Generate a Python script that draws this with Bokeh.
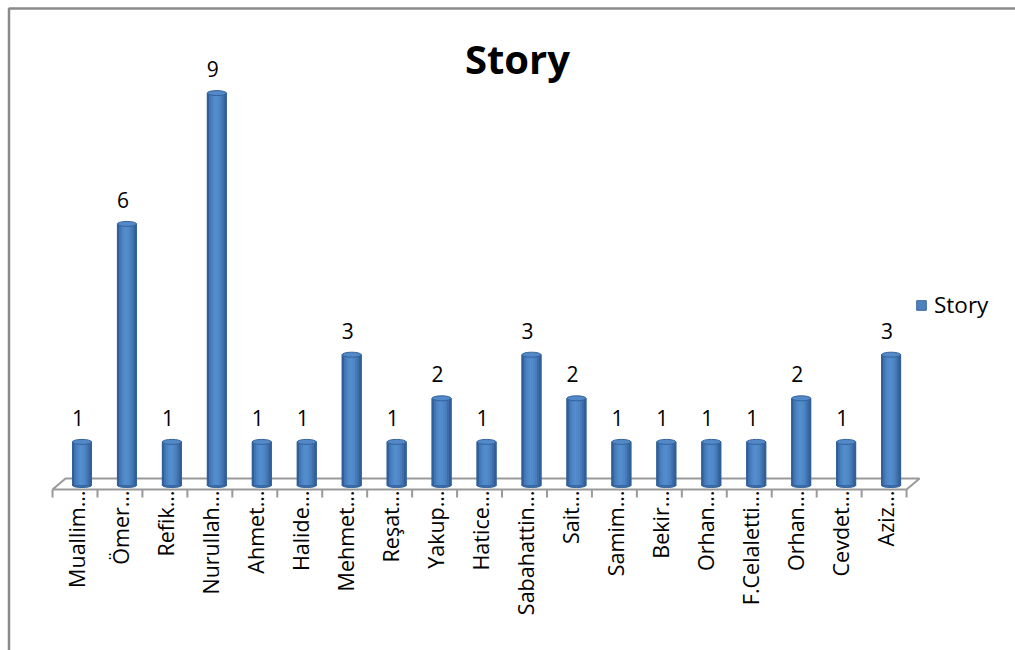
import numpy as np
from bokeh.plotting import figure
from bokeh.models import Range1d, Legend, LegendItem, Label
from bokeh.core.properties import value
from bokeh.embed import file_html
from bokeh.resources import INLINE

# ---- data -------------------------------------------------------------
categories = ["Muallim…", "Ömer…", "Refik…", "Nurullah…", "Ahmet…", "Halide…",
              "Mehmet…", "Reşat…", "Yakup…", "Hatice…", "Sabahattin…", "Sait…",
              "Samim…", "Bekir…", "Orhan…", "F.Celaletti…", "Orhan…", "Cevdet…",
              "Aziz…"]
story = [1, 6, 1, 9, 1, 1, 3, 1, 2, 1, 3, 2, 1, 1, 1, 1, 2, 1, 3]
series_name = "Story"
chart_title = "Story"

# ---- layout -----------------------------------------------------------
W, H = 1015, 650
CAT_PX = 44.95    # pixels per category slot
UNIT_PX = 43.6    # pixels per value unit
X0_PX = 81.5      # screen x of the first column centre
Y0_PX = 485.0     # screen y of the value baseline
FONT = "Open Sans"

dx = 1.0 / CAT_PX   # one pixel in x data units
dy = 1.0 / UNIT_PX  # one pixel in y data units

p = figure(width=W, height=H,
           x_range=Range1d(-X0_PX / CAT_PX, (W - X0_PX) / CAT_PX),
           y_range=Range1d(-(H - Y0_PX) / UNIT_PX, Y0_PX / UNIT_PX),
           output_backend="svg", toolbar_location=None,
           x_axis_location=None, y_axis_location=None,
           min_border=0, outline_line_color=None,
           background_fill_color="white", border_fill_color="white")
p.grid.visible = False
# pixel-space ranges for the chart-area frame
p.extra_x_ranges = {"px": Range1d(0, W)}
p.extra_y_ranges = {"px": Range1d(H, 0)}

n = len(categories)
idx = np.arange(n)

# chart-area border (top and left edges)
p.line([8.5, 8.5, W], [H, 8, 8], x_range_name="px", y_range_name="px",
       line_color="#8a8a8a", line_width=2.5)

# ---- 3-D floor --------------------------------------------------------
FRONT_DX, FRONT_DY = -7, 4     # front edge offset (px right, px down)
BACK_DX, BACK_DY = 6, -7       # back edge offset
left, right = -0.5, n - 0.5
fx = [left + FRONT_DX * dx, right + FRONT_DX * dx, right + BACK_DX * dx,
      left + BACK_DX * dx, left + FRONT_DX * dx]
fy = [-FRONT_DY * dy, -FRONT_DY * dy, -BACK_DY * dy, -BACK_DY * dy, -FRONT_DY * dy]
p.line(fx, fy, line_color="#9a9a9a", line_width=2)

tick_x = np.arange(n + 1) - 0.5 + FRONT_DX * dx
p.segment(x0=tick_x, y0=[-FRONT_DY * dy] * (n + 1),
          x1=tick_x, y1=[-(FRONT_DY + 8) * dy] * (n + 1),
          line_color="#9a9a9a", line_width=2)

# ---- cylinders --------------------------------------------------------
col_w = 19 * dx
p.ellipse(x=idx, y=[0] * n, width=col_w, height=4 * dy,
          fill_color="#3f6fab", line_color="#34639c", line_width=1)
main = p.vbar(x=idx, top=story, bottom=0, width=col_w,
              fill_color="#4f81bd", line_color="#3b679e", line_width=1)

shades = ["#2f5d96", "#4175b4", "#4a81c2", "#508ac9", "#548ecd",
          "#528bca", "#4e85c4", "#477bb9", "#3e6ea9", "#315f98"]
ns = len(shades)
sw = col_w / ns
for k, c in enumerate(shades):
    p.vbar(x=idx - col_w / 2 + (k + 0.5) * sw, top=story, bottom=0,
           width=sw * 1.2, fill_color=c, line_color=None)

p.vbar(x=idx, top=story, bottom=0, width=col_w,
       fill_color=None, line_color="#34639c", line_width=0.8)
p.ellipse(x=idx, y=story, width=col_w, height=5 * dy,
          fill_color="#5389c8", line_color="#34639c", line_width=1)

# ---- value labels -----------------------------------------------------
p.text(x=idx, y=story, text=[str(v) for v in story],
       x_offset=-4, y_offset=-24, text_align="center",
       text_baseline="middle", text_font=value(FONT),
       text_font_size="21px", text_color="#000000")

# ---- category labels ---------------------------------------------------
p.text(x=idx, y=[0] * n, text=categories, angle=np.pi / 2,
       x_offset=-6, y_offset=5, text_align="right",
       text_baseline="middle", text_font=value(FONT),
       text_font_size="21.5px", text_color="#000000")

# ---- title ------------------------------------------------------------
p.add_layout(Label(x=517, y=58, x_range_name="px", y_range_name="px",
                   text=chart_title, text_align="center",
                   text_baseline="alphabetic", text_font=FONT,
                   text_font_style="bold", text_font_size="40px",
                   text_color="#000000"))

# ---- legend -----------------------------------------------------------
legend = Legend(items=[LegendItem(label=series_name, renderers=[main])],
                location=(915, 330), padding=0, margin=0, spacing=0,
                border_line_color=None, background_fill_alpha=0,
                glyph_width=12, glyph_height=12, label_standoff=7,
                label_text_font=FONT, label_text_font_size="22.5px",
                label_text_color="#000000")
p.add_layout(legend)

open("out.html", "w").write(file_html(p, INLINE))
